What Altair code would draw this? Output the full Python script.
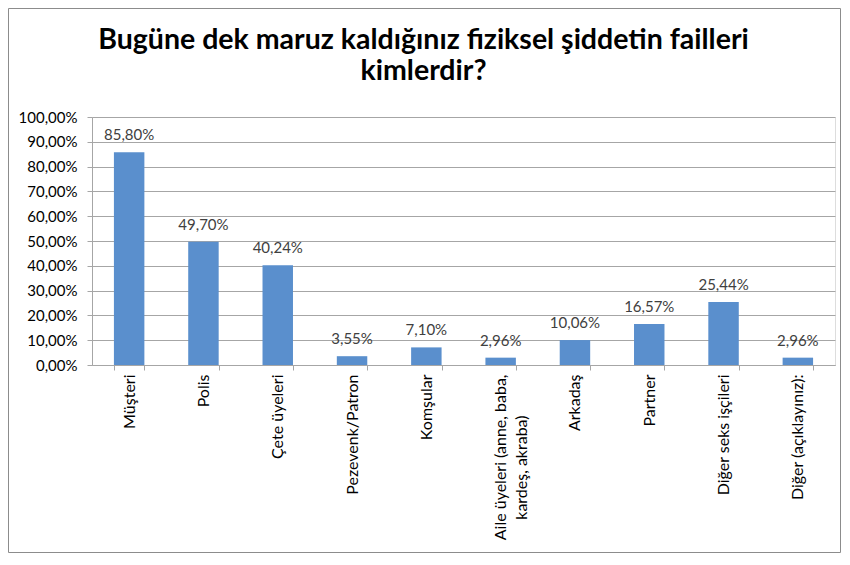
import altair as alt
import pandas as pd

categories = [
    "Müşteri",
    "Polis",
    "Çete üyeleri",
    "Pezevenk/Patron",
    "Komşular",
    "Aile üyeleri (anne, baba,\nkardeş, akraba)" + "\u00a0" * 10 + "\u2060",
    "Arkadaş",
    "Partner",
    "Diğer seks işçileri",
    "Diğer (açıklayınız):",
]
values = [85.80, 49.70, 40.24, 3.55, 7.10, 2.96, 10.06, 16.57, 25.44, 2.96]
y_ticks = [0, 10, 20, 30, 40, 50, 60, 70, 80, 90, 100]
title_lines = ["Bugüne dek maruz kaldığınız fiziksel şiddetin failleri", "kimlerdir?"]

labels = [f"{v:.2f}".replace(".", ",") + "%" for v in values]
df = pd.DataFrame({"cat": categories, "val": values, "lab": labels})

FONT = "Lato"
BAR = "#5A8FCD"
GRID = "#A6A6A6"

W, H = 743, 248
PL, PT = 84, 109
TOTW, TOTH = 833, 545

base = alt.Chart(df).encode(
    x=alt.X(
        "cat:N",
        sort=None,
        scale=alt.Scale(paddingInner=0.59, paddingOuter=0.295),
        axis=alt.Axis(
            title=None,
            labelAngle=270,
            labelAlign="right",
            labelBaseline="middle",
            labelExpr="split(datum.label, '\\n')",
            labelFont=FONT,
            labelFontSize=16,
            labelColor="#000000",
            labelPadding=4,
            labelLimit=300,
            labelLineHeight=21,
            tickSize=5,
            tickColor=GRID,
            domainColor=GRID,
            tickBand="extent",
            grid=False,
        ),
    ),
    y=alt.Y(
        "val:Q",
        scale=alt.Scale(domain=[0, 100], nice=False),
        axis=alt.Axis(
            title=None,
            values=y_ticks,
            labelExpr="replace(format(datum.value, '.2f'), '.', ',') + '%'",
            labelFont=FONT,
            labelFontSize=15,
            labelColor="#000000",
            labelPadding=10,
            tickSize=5,
            tickColor=GRID,
            domainColor=GRID,
            gridColor=GRID,
            grid=True,
        ),
    ),
)

bars = base.mark_bar(color=BAR)
texts = base.mark_text(
    dy=-12, baseline="alphabetic", font=FONT, fontSize=15, color="#404040"
).encode(text="lab:N")

border = alt.Chart(pd.DataFrame({"a": [0]})).mark_rect(
    fill=None, stroke="#8C8C8C", strokeWidth=1
).encode(
    x=alt.value(-PL + 0.5),
    x2=alt.value(TOTW - PL - 0.5),
    y=alt.value(-PT + 0.5),
    y2=alt.value(TOTH - PT - 0.5),
)

chart = (
    alt.layer(border, bars, texts)
    .properties(
        width=W,
        height=H,
        autosize=alt.AutoSizeParams(type="none"),
        padding={"left": PL, "top": PT, "right": TOTW - PL - W, "bottom": TOTH - PT - H},
        title=alt.TitleParams(
            text=title_lines,
            font=FONT,
            fontSize=28.5,
            fontWeight="bold",
            color="#000000",
            lineHeight=31,
            anchor="middle",
            baseline="alphabetic",
            dx=-40,
            offset=-100,
        ),
    )
    .configure_view(stroke=None)
    .configure(background="white")
)

chart.save("out.html", embed_options={"renderer": "svg", "actions": False})
